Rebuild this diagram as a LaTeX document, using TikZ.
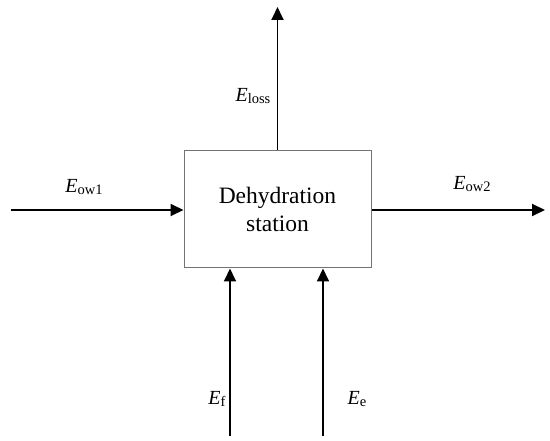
\documentclass[tikz,border=0pt]{standalone}
\usepackage{fontspec}
\setmainfont{Liberation Serif}
\usetikzlibrary{arrows.meta}
\newcommand{\sbs}[1]{\raisebox{-2.5pt}{\fontsize{14.5}{16}\selectfont #1}}
\begin{document}
\begin{tikzpicture}[x=1pt,y=-1pt,
  flow/.style={line width=1.9pt,-{Triangle[length=13pt,width=12pt]}},
  station/.style={draw=black!55,line width=1pt,fill=white,minimum width=187pt,minimum height=117pt,inner sep=0pt,align=center,font=\fontsize{23.5}{28}\selectfont},
  lbl/.style={font=\fontsize{20}{22}\selectfont,inner sep=0pt}]
\useasboundingbox (0,0) rectangle (550,441);
\node[station] (box) at (277.5,209.5) {Dehydration\\station};
\coordinate (topend) at (277.5,7);
\coordinate (lstart) at (11,210);
\coordinate (rend) at (545,210);
\coordinate (fstart) at (230,436);
\coordinate (estart) at (323,436);
\draw[flow] (box.north) -- (topend);
\draw[flow] (lstart) -- (box.west |- lstart);
\draw[flow] (box.east |- rend) -- (rend);
\draw[flow] (fstart) -- (fstart |- box.south);
\draw[flow] (estart) -- (estart |- box.south);
\node[lbl] (lloss) at (253,96) {\textit{E}\sbs{loss}};
\node[lbl] (low1) at (84,187) {\textit{E}\sbs{ow1}};
\node[lbl] (low2) at (472,184) {\textit{E}\sbs{ow2}};
\node[lbl] (lf) at (217,399) {\textit{E}\sbs{f}};
\node[lbl] (le) at (357,399) {\textit{E}\sbs{e}};
\end{tikzpicture}
\end{document}
